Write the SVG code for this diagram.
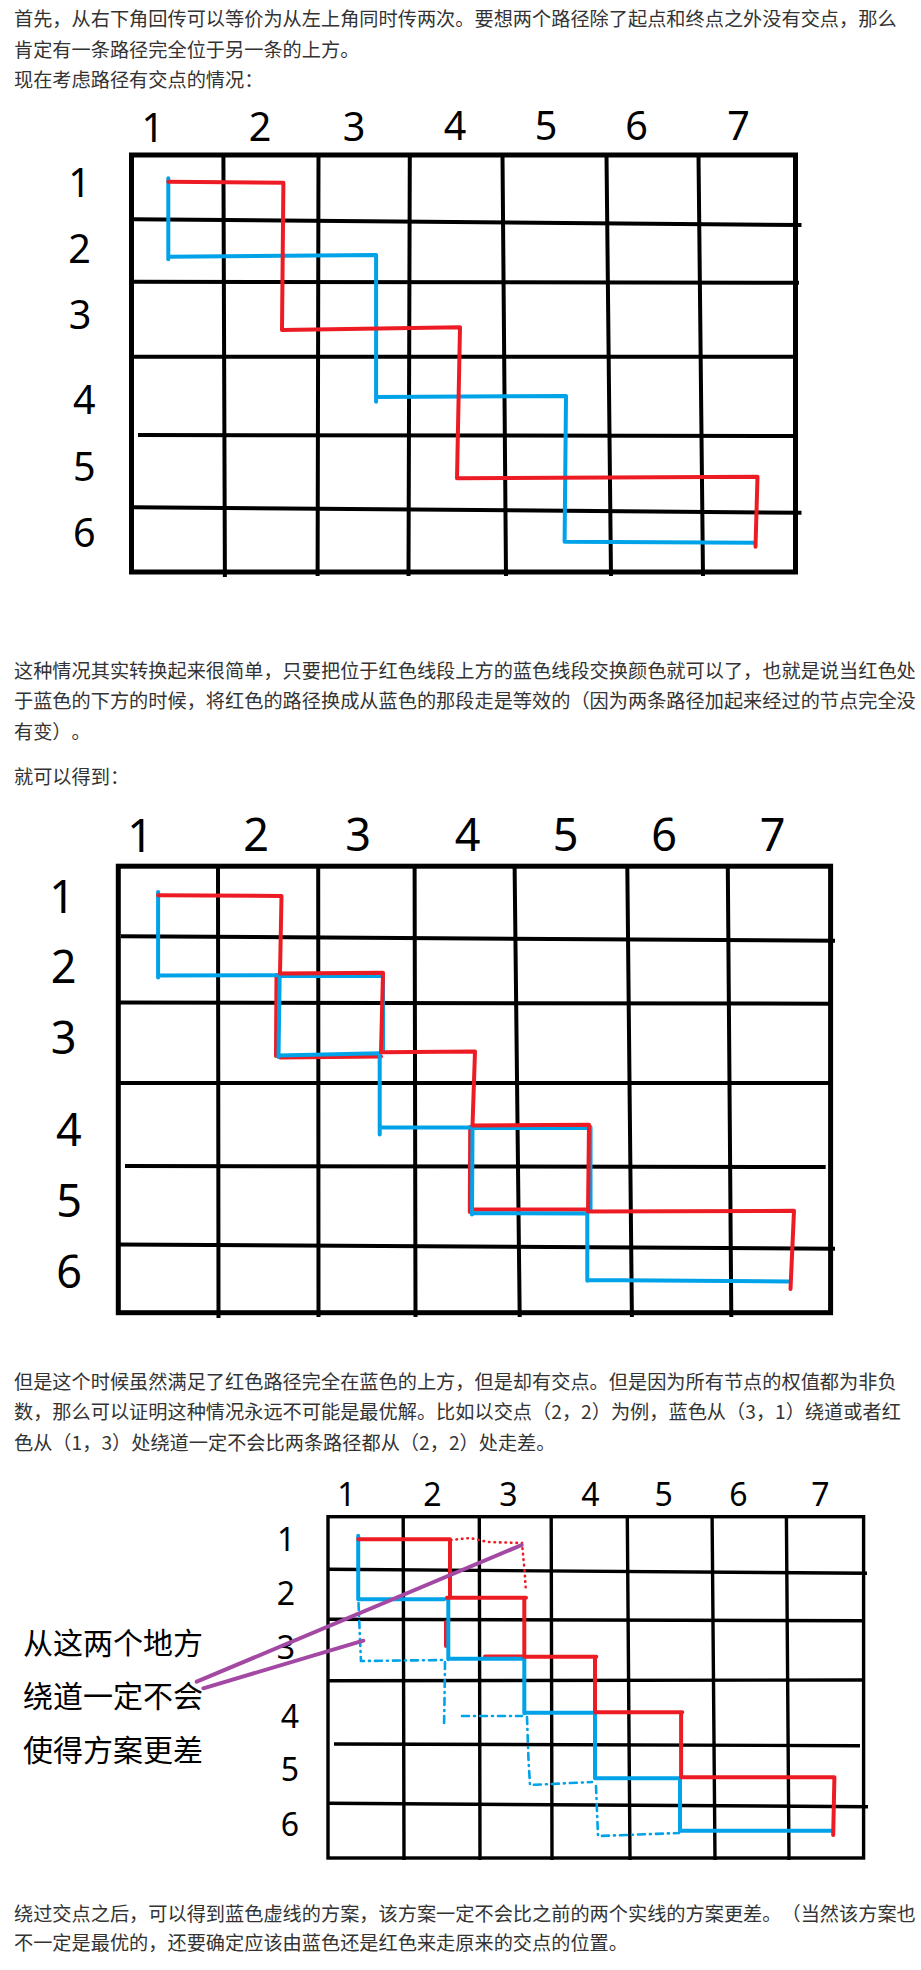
<svg xmlns="http://www.w3.org/2000/svg" width="921" height="1970" viewBox="0 0 921 1970">
<style>
.t{font-family:"Noto Sans CJK SC","Noto Sans",sans-serif;font-size:19.2px;fill:#333;text-spacing-trim:space-all}
.n{font-family:"Noto Sans CJK SC","Noto Sans",sans-serif;font-size:30px;fill:#000}
.l{font-family:"Noto Sans","Liberation Sans",sans-serif;fill:#000;text-anchor:middle}
.l1{font-size:39.5px}.l2{font-size:45px}.l3{font-size:32px}
.fr{fill:none;stroke:#000;stroke-width:5}
.g{fill:none;stroke:#000;stroke-width:4}
.g3{fill:none;stroke:#000;stroke-width:3.4}
.r{fill:none;stroke:#ED1C24;stroke-width:4;stroke-linecap:round;stroke-linejoin:round}
.b{fill:none;stroke:#00A2E8;stroke-width:4;stroke-linecap:round;stroke-linejoin:round}
.rd{fill:none;stroke:#ED1C24;stroke-width:2.6;stroke-linecap:round;stroke-dasharray:0.5 5}
.bd{fill:none;stroke:#00A2E8;stroke-width:2.6;stroke-linecap:round;stroke-dasharray:7 5 1 5}
.p{fill:none;stroke:#A349A4;stroke-width:4;stroke-linecap:round}
</style>
<rect width="921" height="1970" fill="#fff"/>

<g id="para1">
<text class="t" x="14" y="25.5">首先，从右下角回传可以等价为从左上角同时传两次。要想两个路径除了起点和终点之外没有交点，那么</text>
<text class="t" x="14" y="56.5">肯定有一条路径完全位于另一条的上方。</text>
<text class="t" x="14" y="87">现在考虑路径有交点的情况：</text>
</g>

<g id="diagram1">
<g id="d1-grid">
<rect class="fr" x="131.5" y="155" width="664" height="417"/>
<path class="g" d="M223.4,155 L224.9,577 M318.5,155 L317.6,576 M409.8,155 L408.5,576 M502.5,155 L506,576 M606.5,155 L611,576 M698.5,155 L703,576"/>
<path class="g" d="M133,219.3 L801.5,225 M133,281.7 L799,282.7 M133,356.7 L795.5,356.7 M138,435 L794,436 M133,507.3 L801.5,512.7"/>
</g>
<g id="d1-labels">
<text class="l l1" x="152.7" y="141.5">1</text>
<text class="l l1" x="260" y="140.5">2</text>
<text class="l l1" x="354" y="140.5">3</text>
<text class="l l1" x="455" y="140">4</text>
<text class="l l1" x="546" y="140">5</text>
<text class="l l1" x="636.5" y="140">6</text>
<text class="l l1" x="738.5" y="140">7</text>
<text class="l l1" x="79.5" y="196.5">1</text>
<text class="l l1" x="79.5" y="262.5">2</text>
<text class="l l1" x="80" y="329">3</text>
<text class="l l1" x="84.4" y="414">4</text>
<text class="l l1" x="84.4" y="480.5">5</text>
<text class="l l1" x="84.4" y="547">6</text>
</g>
<g id="d1-paths">
<path class="b" d="M168.3,178.3 L168.3,259.3 M168.3,256.7 L376.1,255 L376.1,401.7 M376.1,397 L566,396 L564.6,541.7 L754.5,542.7"/>
<path class="r" d="M168.3,181.7 L283.4,182.7 L282,330 L460,327.3 L457,478.3 L757.5,476.7 L755.5,546.7"/>
</g>
</g>

<g id="para2">
<text class="t" x="14" y="677.5">这种情况其实转换起来很简单，只要把位于红色线段上方的蓝色线段交换颜色就可以了，也就是说当红色处</text>
<text class="t" x="14" y="708">于蓝色的下方的时候，将红色的路径换成从蓝色的那段走是等效的（因为两条路径加起来经过的节点完全没</text>
<text class="t" x="14" y="738.5">有变）。</text>
<text class="t" x="14" y="784">就可以得到：</text>
</g>

<g id="diagram2">
<g id="d2-grid">
<rect class="fr" x="118.3" y="866.2" width="712.3" height="446.5"/>
<path class="g" d="M218,866 L218.5,1318 M318.2,866 L318.5,1317 M414.6,866 L415.5,1317 M514.6,866 L519.7,1317 M627.3,866 L631.9,1317 M727.8,866 L731.3,1317"/>
<path class="g" d="M120.9,936.2 L835,940.8 M118.3,1002.6 L832.3,1003.7 M118.3,1082.9 L830.6,1082.9 M125,1166 L825.7,1167 M118.3,1244.5 L835,1248.7"/>
</g>
<g id="d2-labels">
<text class="l l2" x="140.2" y="852">1</text>
<text class="l l2" x="256" y="851">2</text>
<text class="l l2" x="358" y="851">3</text>
<text class="l l2" x="467.7" y="851">4</text>
<text class="l l2" x="565.6" y="851">5</text>
<text class="l l2" x="664" y="851">6</text>
<text class="l l2" x="772.6" y="851">7</text>
<text class="l l2" x="62.2" y="913.2">1</text>
<text class="l l2" x="63.7" y="982.5">2</text>
<text class="l l2" x="63.7" y="1053.5">3</text>
<text class="l l2" x="68.8" y="1146">4</text>
<text class="l l2" x="69" y="1216.5">5</text>
<text class="l l2" x="69" y="1288">6</text>
</g>
<g id="d2-paths">
<path class="r" d="M276.5,975 L276,1056 M280,1057.5 L381,1056.5 M470.2,1127 L469.8,1212 M473,1209.5 L588,1209.5"/>
<path class="b" d="M281,976 L381,976 M383,975 L383,1052 M475,1128 L589,1128 M590.5,1127 L590.5,1211"/>
<path class="b" d="M158.1,891.9 L158.1,977.4 M158.1,975.5 L281.2,975.2 M279.7,973.7 L278.5,1056.9 M278.7,1055.4 L379.7,1053.3 M379.7,1054 L379.7,1134.6 M379.7,1127.4 L472.5,1127.4 L472,1214.4 M471.5,1213 L587.3,1213.6 M587.3,1211.5 L587.3,1280.7 M587.3,1280 L788.8,1281.4"/>
<path class="r" d="M158.1,895.3 L281.5,896 L280,973.5 L383,972.8 L381,1052.3 L475,1051.6 L472.5,1125.5 L589,1124.8 L588,1211.5 L794,1210.8 L790.5,1289"/>
</g>
</g>

<g id="para3">
<text class="t" x="14" y="1388.5">但是这个时候虽然满足了红色路径完全在蓝色的上方，但是却有交点。但是因为所有节点的权值都为非负</text>
<text class="t" x="14" y="1419">数，那么可以证明这种情况永远不可能是最优解。比如以交点（2，2）为例，蓝色从（3，1）绕道或者红</text>
<text class="t" x="14" y="1449.5">色从（1，3）处绕道一定不会比两条路径都从（2，2）处走差。</text>
</g>

<g id="diagram3">
<g id="d3-grid">
<rect class="g3" x="328" y="1516.7" width="535.6" height="341.3" stroke-width="4"/>
<path class="g3" d="M403.2,1516.7 L404,1860 M479.3,1516.7 L480,1860 M551.2,1516.7 L552,1860 M627.3,1516.7 L630,1860 M712.1,1516.7 L715,1860 M786.4,1516.7 L789,1860"/>
<path class="g3" d="M328,1569.3 L867,1573.3 M328,1619.3 L863.6,1620.7 M328,1680.7 L863.6,1680 M334,1744 L860,1745.7 M328,1803.3 L868,1806.7"/>
</g>
<g id="d3-labels">
<text class="l l3" x="346.5" y="1506">1</text>
<text class="l l3" x="432.5" y="1506">2</text>
<text class="l l3" x="508.5" y="1506">3</text>
<text class="l l3" x="590.4" y="1506">4</text>
<text class="l l3" x="663.6" y="1506">5</text>
<text class="l l3" x="738.4" y="1506">6</text>
<text class="l l3" x="820.3" y="1506">7</text>
<text class="l l3" x="286.2" y="1551">1</text>
<text class="l l3" x="286" y="1605">2</text>
<text class="l l3" x="286" y="1659">3</text>
<text class="l l3" x="290" y="1728">4</text>
<text class="l l3" x="290" y="1781">5</text>
<text class="l l3" x="290" y="1836">6</text>
</g>
<g id="d3-paths">
<path class="rd" d="M451,1540 L470,1538 L488,1542 L522,1543 L524.5,1570 L526,1592"/>
<path class="bd" d="M358.5,1603 L360,1640 L361,1661 L446,1660 M445,1662 L444.5,1700 L444,1727 M462,1716 L522,1716 M527,1717 L528.5,1760 L530,1785 L592,1782 M596,1786 L598,1836 L679,1833"/>
<path class="r" d="M446,1622 L446,1646 M485,1656.5 L524,1656.5"/>
<path class="b" d="M358.2,1535.7 L358.2,1599.3 L444.2,1599.3 M448.3,1598.3 L448.3,1659.3 M448.3,1658.7 L524.3,1658.7 L524.3,1713.3 M524.3,1712.7 L595,1712.7 L595,1778.3 L680,1778.3 L680,1830.7 L832,1830.7"/>
<path class="r" d="M358.2,1539.3 L450,1539.3 L450,1597.7 M447,1597.7 L526,1597.7 M524.3,1597.7 L524.3,1656.7 L596.3,1656.7 M595,1656.7 L595,1712.3 L682.3,1712.3 M681.1,1712.3 L681.1,1777.3 L834.4,1777.3 L833.2,1835"/>
<path class="p" d="M196.7,1681.7 L521.7,1545 M203.3,1688.3 L363.3,1640.7"/>
</g>
<g id="d3-note">
<text class="n" x="23" y="1653.5">从这两个地方</text>
<text class="n" x="23" y="1707">绕道一定不会</text>
<text class="n" x="23" y="1761">使得方案更差</text>
</g>
</g>

<g id="para4">
<text class="t" x="14" y="1920.5">绕过交点之后，可以得到蓝色虚线的方案，该方案一定不会比之前的两个实线的方案更差。（当然该方案也</text>
<text class="t" x="14" y="1949.5">不一定是最优的，还要确定应该由蓝色还是红色来走原来的交点的位置。</text>
</g>
</svg>
